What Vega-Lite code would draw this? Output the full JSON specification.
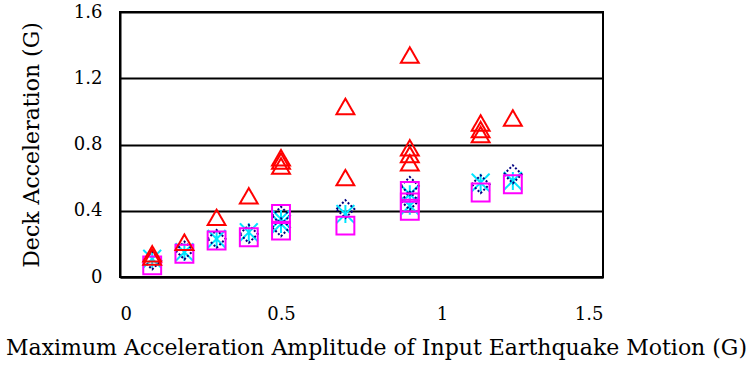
{
  "$schema": "https://vega.github.io/schema/vega-lite/v6.json",
  "width": 483,
  "height": 265,
  "autosize": "none",
  "padding": {"left": 120, "top": 12, "right": 151, "bottom": 108},
  "background": "white",
  "config": {
    "view": {"stroke": "black", "strokeWidth": 2},
    "axis": {"labelFont": "DejaVu Serif", "titleFont": "DejaVu Serif", "labelColor": "black", "titleColor": "black", "titleFontWeight": "normal"}
  },
  "data": {
    "values": [
      {"x": 0.1, "y": 0.07, "s": "sq"}, {"x": 0.2, "y": 0.14, "s": "sq"}, {"x": 0.3, "y": 0.22, "s": "sq"},
      {"x": 0.4, "y": 0.24, "s": "sq"}, {"x": 0.5, "y": 0.38, "s": "sq"}, {"x": 0.5, "y": 0.28, "s": "sq"},
      {"x": 0.7, "y": 0.31, "s": "sq"}, {"x": 0.9, "y": 0.52, "s": "sq"}, {"x": 0.9, "y": 0.45, "s": "sq"},
      {"x": 0.9, "y": 0.4, "s": "sq"}, {"x": 1.12, "y": 0.51, "s": "sq"}, {"x": 1.22, "y": 0.56, "s": "sq"},
      {"x": 0.1, "y": 0.1, "s": "di"}, {"x": 0.2, "y": 0.16, "s": "di"}, {"x": 0.3, "y": 0.23, "s": "di"},
      {"x": 0.4, "y": 0.26, "s": "di"}, {"x": 0.5, "y": 0.37, "s": "di"}, {"x": 0.5, "y": 0.3, "s": "di"},
      {"x": 0.7, "y": 0.41, "s": "di"}, {"x": 0.9, "y": 0.55, "s": "di"}, {"x": 0.9, "y": 0.46, "s": "di"},
      {"x": 1.12, "y": 0.56, "s": "di"}, {"x": 1.22, "y": 0.62, "s": "di"},
      {"x": 0.1, "y": 0.11, "s": "cx"}, {"x": 0.2, "y": 0.15, "s": "cx"}, {"x": 0.3, "y": 0.23, "s": "cx"},
      {"x": 0.4, "y": 0.27, "s": "cx"}, {"x": 0.5, "y": 0.35, "s": "cx"}, {"x": 0.5, "y": 0.32, "s": "cx"},
      {"x": 0.7, "y": 0.38, "s": "cx"}, {"x": 0.9, "y": 0.5, "s": "cx"}, {"x": 0.9, "y": 0.43, "s": "cx"},
      {"x": 1.12, "y": 0.57, "s": "cx"}, {"x": 1.22, "y": 0.58, "s": "cx"},
      {"x": 0.1, "y": 0.14, "s": "tr"}, {"x": 0.1, "y": 0.12, "s": "tr"}, {"x": 0.2, "y": 0.21, "s": "tr"},
      {"x": 0.3, "y": 0.36, "s": "tr"}, {"x": 0.4, "y": 0.49, "s": "tr"}, {"x": 0.5, "y": 0.72, "s": "tr"},
      {"x": 0.5, "y": 0.7, "s": "tr"}, {"x": 0.5, "y": 0.67, "s": "tr"}, {"x": 0.7, "y": 1.03, "s": "tr"},
      {"x": 0.7, "y": 0.6, "s": "tr"}, {"x": 0.9, "y": 1.34, "s": "tr"}, {"x": 0.9, "y": 0.78, "s": "tr"},
      {"x": 0.9, "y": 0.74, "s": "tr"}, {"x": 0.9, "y": 0.69, "s": "tr"}, {"x": 1.12, "y": 0.93, "s": "tr"},
      {"x": 1.12, "y": 0.89, "s": "tr"}, {"x": 1.12, "y": 0.86, "s": "tr"}, {"x": 1.22, "y": 0.96, "s": "tr"}
    ]
  },
  "mark": {"type": "point", "filled": false, "strokeWidth": 2, "size": 320, "opacity": 1},
  "encoding": {
    "x": {
      "field": "x", "type": "quantitative",
      "scale": {"domain": [0, 1.5], "nice": false},
      "axis": {"values": [0, 0.5, 1, 1.5], "labelExpr": "format(datum.value, '~g')", "grid": false, "domain": true, "domainColor": "black", "domainWidth": 2, "ticks": false, "labelPadding": 28, "labelFontSize": 18, "title": "Maximum Acceleration Amplitude of Input Earthquake Motion (G)", "titleFontSize": 22, "titleX": 256, "titlePadding": 14}
    },
    "y": {
      "field": "y", "type": "quantitative",
      "scale": {"domain": [0, 1.6], "nice": false},
      "axis": {"values": [0, 0.4, 0.8, 1.2, 1.6], "labelExpr": "datum.value == 0 ? '0' : format(datum.value, '.1f')", "grid": true, "gridColor": "black", "gridWidth": 2, "gridOpacity": 1, "domain": true, "domainColor": "black", "domainWidth": 2, "ticks": false, "labelPadding": 18, "labelFontSize": 18, "title": "Deck Acceleration (G)", "titleFontSize": 22, "titlePadding": 30}
    },
    "shape": {
      "field": "s", "type": "nominal", "legend": null,
      "scale": {"domain": ["sq", "di", "cx", "tr"], "range": ["square", "diamond", "M-1,-1L1,1M-1,1L1,-1M0,-1L0,1", "triangle-up"]}
    },
    "color": {
      "field": "s", "type": "nominal", "legend": null,
      "scale": {"domain": ["sq", "di", "cx", "tr"], "range": ["#ff00ff", "#000080", "#00e5ff", "#ff0000"]}
    },
    "strokeDash": {
      "field": "s", "type": "nominal", "legend": null,
      "scale": {"domain": ["sq", "di", "cx", "tr"], "range": [[1, 0], [2, 2], [1, 0], [1, 0]]}
    },
    "order": {"field": "s", "sort": "ascending"}
  }
}
